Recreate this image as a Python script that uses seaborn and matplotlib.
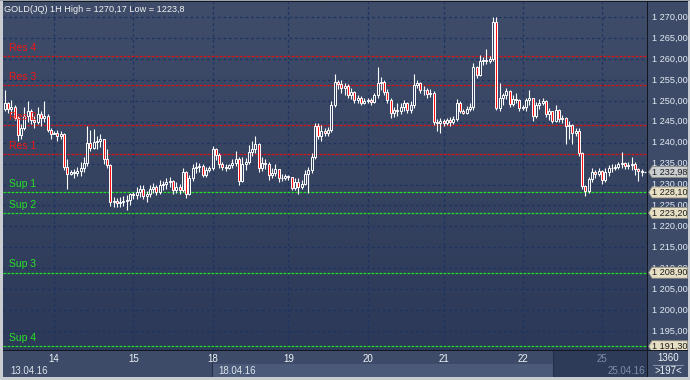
import numpy as np
import pandas as pd
import matplotlib
matplotlib.use("Agg")
import matplotlib.pyplot as plt
import seaborn as sns
from matplotlib.patches import Rectangle, Polygon
from matplotlib.colors import LinearSegmentedColormap
import matplotlib.transforms as mtransforms

# hourly candles, open = previous close
first_open = 1248.0
close_px = [
    1249.5, 1248.0, 1248.6, 1246.0, 1241.8, 1243.5, 1246.5, 1247.5, 1245.5, 1245.0,
    1246.8, 1246.0, 1246.5, 1243.0, 1242.2, 1242.4, 1241.5, 1242.0, 1234.2, 1232.5,
    1233.0, 1232.8, 1233.2, 1234.0, 1235.2, 1240.0, 1238.8, 1240.2, 1240.5, 1240.8,
    1236.0, 1234.6, 1225.8, 1226.0, 1225.5, 1225.8, 1226.0, 1226.4, 1227.8, 1227.6,
    1228.3, 1229.0, 1227.3, 1227.8, 1229.0, 1229.3, 1228.3, 1229.8, 1230.1, 1230.5,
    1230.8, 1228.8, 1229.5, 1228.8, 1233.0, 1227.8, 1231.5, 1234.0, 1234.2, 1234.4,
    1232.2, 1233.5, 1234.0, 1238.5, 1237.0, 1234.9, 1234.3, 1234.0, 1234.6, 1235.2,
    1236.2, 1230.8, 1234.8, 1235.5, 1237.8, 1238.5, 1239.8, 1233.9, 1235.2, 1235.0,
    1232.2, 1232.8, 1233.6, 1231.5, 1231.6, 1232.0, 1231.7, 1229.2, 1230.6, 1229.5,
    1230.2, 1232.6, 1233.5, 1236.5, 1244.0, 1241.5, 1242.8, 1242.3, 1243.0, 1249.0,
    1254.5, 1254.0, 1253.2, 1253.5, 1251.5, 1252.2, 1250.2, 1250.6, 1249.5, 1250.0,
    1250.2, 1249.8, 1251.3, 1254.4, 1254.6, 1252.2, 1250.3, 1247.0, 1247.8, 1247.5,
    1248.6, 1249.5, 1247.8, 1249.0, 1253.8, 1254.2, 1252.5, 1252.7, 1251.6, 1252.0,
    1244.9, 1244.6, 1245.2, 1244.8, 1245.4, 1245.0, 1245.7, 1249.5, 1247.6, 1247.2,
    1248.0, 1248.6, 1258.0, 1256.2, 1259.5, 1259.8, 1259.5, 1260.0, 1268.8, 1248.4,
    1250.6, 1251.5, 1252.3, 1249.2, 1250.5, 1250.2, 1248.2, 1248.5, 1250.3, 1250.6,
    1246.5, 1249.0, 1249.6, 1249.9, 1246.9, 1247.5, 1245.2, 1247.8, 1245.6, 1245.9,
    1244.0, 1244.3, 1242.4, 1242.8, 1237.5, 1229.6, 1228.4, 1231.3, 1233.0, 1232.5,
    1233.3, 1231.0, 1233.0, 1233.9, 1234.0, 1234.3, 1234.8, 1235.2, 1234.4, 1234.7,
    1235.0, 1233.6, 1233.2, 1232.98,
]
high_px = [
    1252.5, 1249.8, 1250.2, 1249.0, 1246.5, 1244.5, 1248.5, 1250.0, 1248.0, 1246.5,
    1248.5, 1247.5, 1250.0, 1246.8, 1243.5, 1242.8, 1243.0, 1242.8, 1242.4, 1236.0,
    1233.5, 1233.6, 1234.2, 1235.5, 1236.5, 1244.0, 1243.0, 1243.3, 1241.5, 1242.2,
    1241.0, 1238.5, 1235.0, 1227.0, 1226.8, 1227.0, 1227.3, 1227.5, 1228.0, 1228.2,
    1229.5, 1229.8, 1229.8, 1228.5, 1229.8, 1230.4, 1229.8, 1231.0, 1230.8, 1231.5,
    1231.8, 1231.0, 1230.5, 1230.2, 1234.0, 1233.3, 1232.2, 1235.0, 1235.5, 1235.2,
    1234.8, 1234.2, 1234.5, 1239.3, 1238.8, 1237.5, 1235.3, 1234.8, 1235.0, 1236.0,
    1238.0, 1236.5, 1236.5, 1236.3, 1239.5, 1240.5, 1241.6, 1240.0, 1236.5, 1236.0,
    1235.4, 1234.0, 1234.8, 1233.8, 1232.5, 1232.6, 1232.3, 1231.9, 1231.5, 1231.5,
    1231.0, 1233.5, 1234.3, 1237.5, 1244.7, 1244.8, 1244.2, 1243.5, 1243.8, 1250.0,
    1256.5, 1255.0, 1255.0, 1254.3, 1254.0, 1253.0, 1252.4, 1251.5, 1251.2, 1250.6,
    1250.8, 1250.6, 1252.0, 1258.0, 1255.6, 1255.0, 1252.8, 1250.8, 1248.5, 1249.5,
    1249.5, 1250.3, 1249.8, 1250.0, 1256.5, 1255.0, 1254.5, 1253.6, 1253.0, 1252.8,
    1252.3, 1245.6, 1246.0, 1245.6, 1246.0, 1246.2, 1246.5, 1250.5, 1250.0, 1248.0,
    1248.8, 1249.4, 1259.0, 1258.4, 1261.0, 1260.5, 1262.5, 1260.8, 1270.17, 1270.1,
    1254.2, 1252.0, 1253.0, 1252.5, 1251.5, 1252.0, 1250.5, 1249.0, 1250.8, 1252.5,
    1250.8, 1249.8, 1250.5, 1250.8, 1250.2, 1248.2, 1247.6, 1249.0, 1248.0, 1246.6,
    1246.2, 1245.2, 1244.5, 1243.5, 1243.5, 1237.7, 1230.0, 1231.8, 1234.0, 1233.5,
    1234.0, 1233.5, 1234.0, 1234.6, 1234.8, 1235.0, 1235.4, 1237.8, 1235.5, 1235.3,
    1236.6, 1235.3, 1234.0, 1233.6,
]
low_px = [
    1247.5, 1247.0, 1246.8, 1245.5, 1240.5, 1241.0, 1243.0, 1245.0, 1244.5, 1243.5,
    1244.5, 1244.0, 1245.0, 1242.5, 1240.8, 1242.0, 1240.5, 1240.8, 1233.5, 1229.0,
    1232.3, 1231.5, 1232.0, 1232.0, 1233.0, 1234.5, 1238.0, 1238.5, 1238.5, 1239.0,
    1234.8, 1234.0, 1224.8, 1224.5, 1224.5, 1224.6, 1224.8, 1223.8, 1225.0, 1226.5,
    1226.5, 1227.0, 1226.5, 1225.8, 1227.0, 1228.0, 1227.5, 1227.8, 1228.8, 1229.0,
    1229.3, 1227.8, 1228.0, 1227.8, 1228.2, 1226.8, 1227.5, 1230.8, 1232.8, 1233.0,
    1231.8, 1231.8, 1233.0, 1233.5, 1235.8, 1234.0, 1233.5, 1233.3, 1233.6, 1234.0,
    1234.5, 1230.0, 1230.5, 1233.5, 1235.0, 1236.8, 1237.5, 1233.0, 1233.2, 1233.8,
    1231.0, 1231.5, 1232.0, 1230.5, 1230.8, 1231.0, 1231.0, 1228.6, 1228.8, 1227.8,
    1229.0, 1229.8, 1227.9, 1232.8, 1236.0, 1240.8, 1240.5, 1241.5, 1241.5, 1242.5,
    1248.5, 1252.8, 1252.0, 1251.5, 1250.8, 1250.5, 1249.5, 1249.6, 1249.0, 1249.2,
    1249.5, 1249.0, 1249.5, 1250.8, 1252.6, 1251.5, 1249.6, 1246.0, 1246.2, 1246.5,
    1246.8, 1247.5, 1247.0, 1247.0, 1248.2, 1253.0, 1252.0, 1251.5, 1250.8, 1250.9,
    1244.2, 1242.8, 1242.4, 1243.9, 1244.2, 1244.0, 1244.4, 1245.2, 1247.0, 1246.8,
    1246.8, 1247.6, 1247.9, 1255.5, 1256.0, 1258.5, 1258.8, 1259.0, 1259.5, 1247.8,
    1247.6, 1249.0, 1250.5, 1248.5, 1248.8, 1249.5, 1247.5, 1247.8, 1247.5, 1249.0,
    1245.2, 1246.0, 1248.0, 1249.0, 1246.2, 1245.5, 1244.8, 1245.0, 1245.0, 1244.6,
    1239.8, 1241.0, 1239.8, 1241.5, 1236.8, 1229.0, 1227.2, 1228.0, 1230.5, 1231.5,
    1232.0, 1230.2, 1230.5, 1232.0, 1233.0, 1233.4, 1233.8, 1234.0, 1233.8, 1233.8,
    1233.4, 1232.2, 1230.8, 1232.0,
]

day_start = [15, 39, 63, 86, 110, 133, 157, 181]
day_labels = ["14", "15", "18", "19", "20", "21", "22", "25"]
week_labels = ["13.04.16", "18.04.16", "25.04.16"]
week_start = [0, 63, 181]

price_ticks = [1195, 1200, 1205, 1210, 1215, 1220, 1225, 1230, 1235,
               1240, 1245, 1250, 1255, 1260, 1265, 1270]
res_names = ["Res 4", "Res 3", "Res 2", "Res 1"]
res_levels = [1260.67, 1253.73, 1244.16, 1237.22]
sup_names = ["Sup 1", "Sup 2", "Sup 3", "Sup 4"]
sup_levels = [1228.10, 1223.20, 1208.90, 1191.30]
title = "GOLD(JQ) 1H High = 1270,17 Low = 1223,8"

df = pd.DataFrame({"close": close_px, "high": high_px, "low": low_px})
df["open"] = [first_open] + close_px[:-1]
df["bar"] = np.arange(len(df))
df["up"] = df["close"] >= df["open"]

sns.set_theme(style="dark")
plt.rcParams["font.family"] = ["Liberation Sans", "DejaVu Sans"]

W, H = 690, 380
fig = plt.figure(figsize=(W / 100, H / 100), dpi=100, facecolor="#121822")

def fax(x0, y0, x1, y1):
    return fig.add_axes([x0 / W, 1 - y1 / H, (x1 - x0) / W, (y1 - y0) / H])

XLIM = (-0.5, 194.65)
YLIM = (1190.41, 1273.66)
BG = "#3d4b68"
GRID = "#1d3461"

ax = fax(3, 2, 647, 350)
ax.set_xlim(*XLIM)
ax.set_ylim(*YLIM)
ax.axis("off")

grad = LinearSegmentedColormap.from_list("bg", ["#2c3958", "#3f4d6a"])
ax.imshow(np.linspace(0, 1, 256).reshape(-1, 1), cmap=grad, origin="lower",
          extent=(XLIM[0], XLIM[1], YLIM[0], YLIM[1]), aspect="auto", zorder=0)

# grid
ax.hlines(price_ticks, XLIM[0], XLIM[1], colors=GRID, lw=0.9,
          linestyles=(0, (2.2, 2.2)), zorder=1)
ax.vlines(day_start, YLIM[0], YLIM[1], colors=GRID, lw=0.9,
          linestyles=(0, (2.2, 2.2)), zorder=1)

# support / resistance
ax.hlines(res_levels, XLIM[0], XLIM[1], colors="#d81414", lw=0.9,
          linestyles=(0, (2.2, 1.0)), zorder=2)
ax.hlines(sup_levels, XLIM[0], XLIM[1], colors="#22e022", lw=0.9,
          linestyles=(0, (2.2, 1.0)), zorder=2)
tr = mtransforms.blended_transform_factory(ax.transAxes, ax.transData)
for name, lv in zip(res_names, res_levels):
    ax.annotate(name, (0.0093, lv), xycoords=tr, xytext=(0, 6), textcoords="offset points",
                color="#f01818", fontsize=7.5, va="center", ha="left", zorder=8)
for name, lv in zip(sup_names, sup_levels):
    ax.annotate(name, (0.0093, lv), xycoords=tr, xytext=(0, 6), textcoords="offset points",
                color="#28e028", fontsize=7.5, va="center", ha="left", zorder=8)

# candles
ax.vlines(df["bar"], df["low"], df["high"], colors="white", lw=0.8, zorder=4)
body_lo = df[["open", "close"]].min(axis=1)
body_h = np.maximum((df["close"] - df["open"]).abs(), 0.12)
faces = np.where(df["up"], "#33415f", "#ff1010")
ax.bar(df["bar"], body_h, bottom=body_lo, width=0.62, color=faces,
       edgecolor="white", linewidth=0.7, zorder=5)
ax.hlines(close_px[-1], len(df) - 0.4, XLIM[1], colors="white", lw=0.9,
          linestyles=(0, (1.5, 1.0)), zorder=5)

fig.text(4 / W, 1 - 10 / H, title, color="#f2f2f2", fontsize=6.6, va="center", ha="left")

# right price scale
rx = fax(648, 2, 688, 350)
rx.set_xlim(0, 40)
rx.set_ylim(*YLIM)
rx.set_facecolor(BG)
rx.set_xticks([])
rx.set_yticks([])
for s in rx.spines.values():
    s.set_visible(False)

def fmt(v):
    return f"{v:,.2f}".replace(",", " ").replace(".", ",")

for p in price_ticks:
    rx.text(3.5, p, fmt(p), color="#e4ebf3", fontsize=6.6, va="center", ha="left")

def tag(v, face):
    hh = 1.32
    rx.add_patch(Polygon([(0.6, v), (4, v + hh), (39.6, v + hh), (39.6, v - hh), (4, v - hh)],
                         closed=True, facecolor=face, edgecolor="#8c8c80", lw=0.6, zorder=5))
    rx.text(4.3, v, fmt(v), color="#1c1c1c", fontsize=6.6, va="center", ha="left", zorder=6)

for lv in sup_levels:
    tag(lv, "#e6dfc4")
tag(close_px[-1], "#c9ccd1")

# bottom time scale
bx = fax(3, 351, 647, 377)
bx.set_xlim(*XLIM)
bx.set_ylim(0, 26)
bx.set_facecolor(BG)
bx.set_xticks([])
bx.set_yticks([])
for s in bx.spines.values():
    s.set_visible(False)

def px2bar(px):
    return (px - 3) / 3.3 - 0.5

bx.add_patch(Rectangle((day_start[2] - 0.3, 0), px2bar(553) - day_start[2] + 0.3, 13,
                       facecolor="#4b5a78", lw=0))
bx.add_patch(Rectangle((px2bar(553), 0), XLIM[1] - px2bar(553), 26,
                       facecolor="#2d3a58", lw=0))
bx.vlines([day_start[2] - 0.3, px2bar(553)], 0, 26, colors="#25304a", lw=0.8)
for d, lab in zip(day_start, day_labels):
    col = "#7f8ea8" if lab == "25" else "#eef2f7"
    bx.text(d, 18.5, lab, color=col, fontsize=7, ha="center", va="center")
for w, lab in zip(week_start, week_labels):
    col = "#7f8ea8" if w == week_start[-1] else "#dfe5ee"
    bx.text(w + 1.8, 5.5, lab, color=col, fontsize=7, ha="left", va="center")

cx = fax(648, 351, 688, 377)
cx.set_facecolor(BG)
cx.set_xlim(0, 1)
cx.set_ylim(0, 1)
cx.set_xticks([])
cx.set_yticks([])
for s in cx.spines.values():
    s.set_visible(False)
cx.text(0.5, 0.72, "1360", color="#eef2f7", fontsize=7, ha="center", va="center")
cx.plot([0.12, 0.88], [0.48, 0.48], color="#8a96aa", lw=0.7)
cx.text(0.5, 0.22, ">197<", color="#eef2f7", fontsize=7, ha="center", va="center")

# outer frame
fig.patches.append(Rectangle((0, 0), 3 / W, 1, transform=fig.transFigure,
                             facecolor="#c9ccd0", lw=0, zorder=10))
fig.patches.append(Rectangle((688 / W, 0), 2 / W, 1, transform=fig.transFigure,
                             facecolor="#c9ccd0", lw=0, zorder=10))
fig.patches.append(Rectangle((0, 0), 1, 3 / H, transform=fig.transFigure,
                             facecolor="#c9ccd0", lw=0, zorder=10))
fig.patches.append(Rectangle((0, 1 - 1 / H), 1, 1 / H, transform=fig.transFigure,
                             facecolor="#9aa0a8", lw=0, zorder=10))

fig.savefig("out.png", dpi=100, facecolor=fig.get_facecolor())
